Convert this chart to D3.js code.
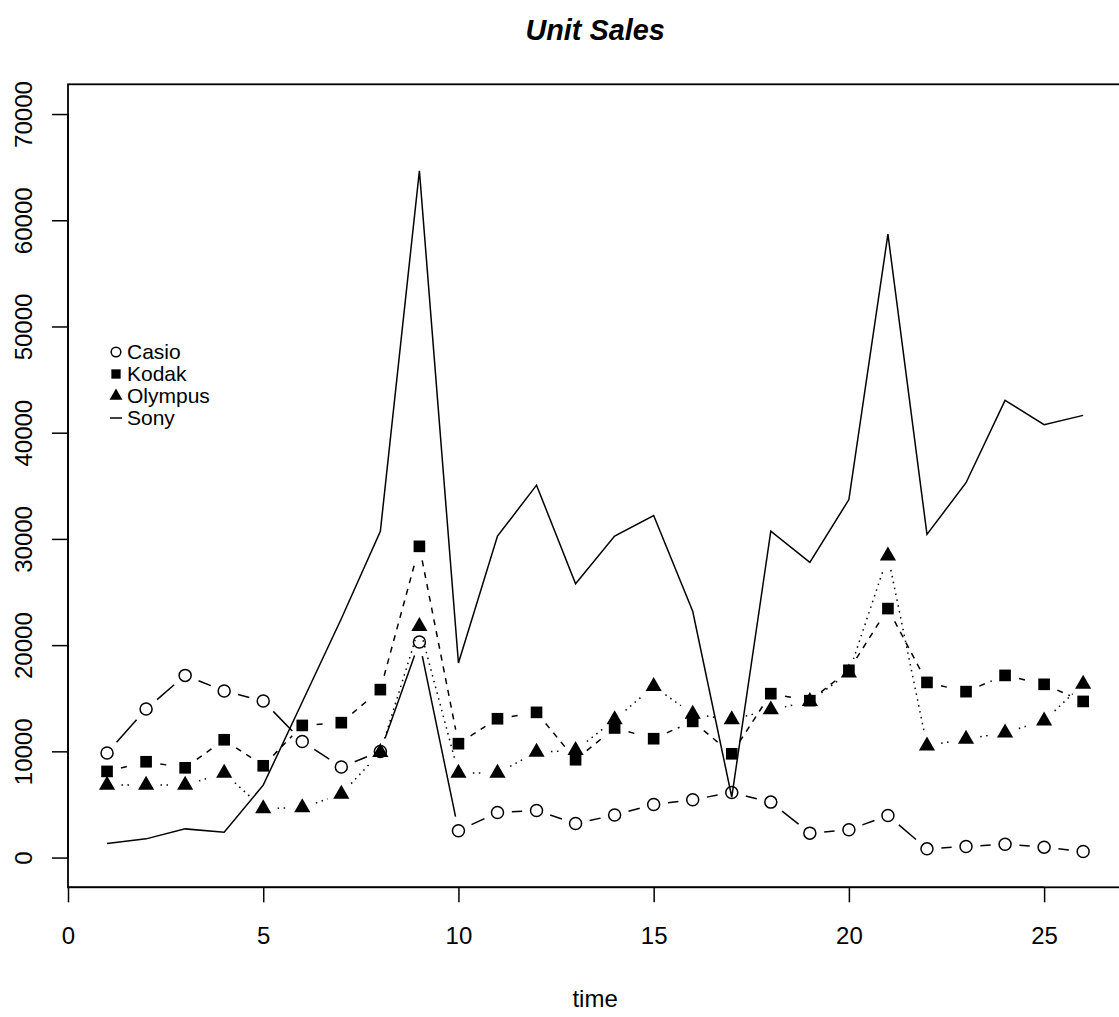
<!DOCTYPE html>
<meta charset="utf-8">
<style>
  body { margin: 0; background: #fff; }
  text { font-family: "Liberation Sans", Arial, sans-serif; }
</style>
<svg width="1119" height="1017"></svg>
<script src="https://d3js.org/d3.v7.min.js"></script>
<script>

var time = [1, 2, 3, 4, 5, 6, 7, 8, 9, 10, 11, 12, 13, 14, 15, 16, 17, 18, 19, 20, 21, 22, 23, 24, 25, 26];

var casio   = [9840, 13990, 17150, 15680, 14740, 10930, 8520, 9990, 20300, 2520, 4240, 4430, 3200,
               4000, 5000, 5440, 6130, 5220, 2300, 2610, 3960, 820, 1040, 1260, 980, 570],
    kodak   = [8110, 9020, 8450, 11090, 8640, 12440, 12700, 15810, 29300, 10720, 13070, 13670, 9210,
               12200, 11190, 12820, 9770, 15430, 14770, 17630, 23440, 16490, 15620, 17150, 16310, 14700],
    olympus = [6820, 6820, 6820, 7950, 4620, 4700, 5970, 9900, 21770, 7950, 7950, 9930, 10090,
               12980, 16120, 13510, 12980, 13920, 14700, 17400, 28400, 10530, 11160, 11750, 12880, 16340],
    sony    = [1320, 1760, 2700, 2390, 6820, 14650, 22480, 30720, 64660, 18320, 30260, 35060, 25770,
               30260, 32200, 23190, 5700, 30720, 27800, 33700, 58690, 30420, 35290, 43040, 40750, 41630];

var xTicks = [0, 5, 10, 15, 20, 25],
    yTicks = [0, 10000, 20000, 30000, 40000, 50000, 60000, 70000];

var legendNames = ["Casio", "Kodak", "Olympus", "Sony"];

var svg = d3.select("svg"),
    plotLeft = 68, plotRight = 1122.2, plotTop = 84.3, plotBottom = 887.3,
    gap = 14.4; // type="b" gap around points

var x = d3.scaleLinear().domain([0, 27]).range([plotLeft, plotRight]),
    y = d3.scaleLinear().domain([-2800, 72800]).range([plotBottom, plotTop]);

var series = [
  {name: "Casio",   values: casio,   dash: null,      pch: "circle"},
  {name: "Kodak",   values: kodak,   dash: "6,6",     pch: "square"},
  {name: "Olympus", values: olympus, dash: "1.5,4.5", pch: "triangle"},
  {name: "Sony",    values: sony,    dash: null,      pch: null}
];

function drawMarker(g, type, cx, cy, s) {
  if (type === "circle") {
    g.append("circle").attr("cx", cx).attr("cy", cy).attr("r", s)
      .attr("fill", "none").attr("stroke", "#000").attr("stroke-width", 1.5);
  } else if (type === "square") {
    var h = s * 0.97;
    g.append("rect").attr("x", cx - h).attr("y", cy - h)
      .attr("width", 2 * h).attr("height", 2 * h).attr("fill", "#000");
  } else if (type === "triangle") {
    var r = 1.555 * s, xc = 1.347 * s, yc = 0.778 * s;
    g.append("path")
      .attr("d", "M" + cx + "," + (cy - r) + "L" + (cx + xc) + "," + (cy + yc) +
                 "L" + (cx - xc) + "," + (cy + yc) + "Z")
      .attr("fill", "#000");
  }
}

var plot = svg.append("g");

series.forEach(function(s) {
  var pts = time.map(function(t, i) { return [x(t), y(s.values[i])]; });
  if (!s.pch) {
    plot.append("path")
      .attr("d", d3.line()(pts))
      .attr("fill", "none").attr("stroke", "#000").attr("stroke-width", 1.5);
    return;
  }
  // segments shortened around each point, dash restarts per segment
  for (var i = 0; i < pts.length - 1; i++) {
    var p0 = pts[i], p1 = pts[i + 1],
        dx = p1[0] - p0[0], dy = p1[1] - p0[1],
        len = Math.sqrt(dx * dx + dy * dy),
        f = gap / len;
    if (f >= 0.5) continue;
    plot.append("line")
      .attr("x1", p0[0] + f * dx).attr("y1", p0[1] + f * dy)
      .attr("x2", p1[0] - f * dx).attr("y2", p1[1] - f * dy)
      .attr("stroke", "#000").attr("stroke-width", 1.5)
      .attr("stroke-dasharray", s.dash);
  }
  pts.forEach(function(p) { drawMarker(plot, s.pch, p[0], p[1], 6); });
});

// box
svg.append("rect")
  .attr("x", plotLeft).attr("y", plotTop)
  .attr("width", plotRight - plotLeft).attr("height", plotBottom - plotTop)
  .attr("fill", "none").attr("stroke", "#000").attr("stroke-width", 1.8);

// axes
var xAxis = svg.append("g")
  .attr("transform", "translate(0," + plotBottom + ")")
  .call(d3.axisBottom(x).tickValues(xTicks).tickSize(15).tickSizeOuter(0).tickPadding(0));
xAxis.select(".domain").remove();
xAxis.selectAll("line").attr("stroke-width", 1.5);
xAxis.selectAll("text").attr("y", 57).attr("dy", null)
  .style("font-size", "24px").attr("fill", "#000");

var yAxis = svg.append("g")
  .attr("transform", "translate(" + plotLeft + ",0)")
  .call(d3.axisLeft(y).tickValues(yTicks).tickSize(16).tickSizeOuter(0).tickFormat(d3.format("d")));
yAxis.select(".domain").remove();
yAxis.selectAll("line").attr("stroke-width", 1.5);
yAxis.selectAll("text")
  .attr("x", null).attr("dy", null)
  .attr("text-anchor", "middle")
  .attr("transform", "translate(-36,0) rotate(-90)")
  .style("font-size", "24px").attr("fill", "#000");

// axis lines between first and last tick
svg.append("line").attr("x1", x(0)).attr("x2", x(25)).attr("y1", plotBottom).attr("y2", plotBottom)
  .attr("stroke", "#000").attr("stroke-width", 1.5);
svg.append("line").attr("x1", plotLeft).attr("x2", plotLeft).attr("y1", y(0)).attr("y2", y(70000))
  .attr("stroke", "#000").attr("stroke-width", 1.5);

// labels
svg.append("text").attr("x", (plotLeft + plotRight) / 2).attr("y", 1007)
  .attr("text-anchor", "middle").style("font-size", "24px").text("time");

svg.append("text").attr("x", (plotLeft + plotRight) / 2).attr("y", 40)
  .attr("text-anchor", "middle").style("font-size", "28.8px")
  .style("font-weight", "bold").style("font-style", "italic").text("Unit Sales");

// legend
var lg = svg.append("g");
var legendPch = ["circle", "square", "triangle", null];
legendNames.forEach(function(n, i) {
  var cy = 352 + i * 22;
  if (legendPch[i]) drawMarker(lg, legendPch[i], 116, cy, 4.8);
  else lg.append("line").attr("x1", 110).attr("x2", 122).attr("y1", cy).attr("y2", cy)
        .attr("stroke", "#000").attr("stroke-width", 1.5);
  lg.append("text").attr("x", 127).attr("y", cy + 7)
    .style("font-size", "21px").text(n);
});

</script>
